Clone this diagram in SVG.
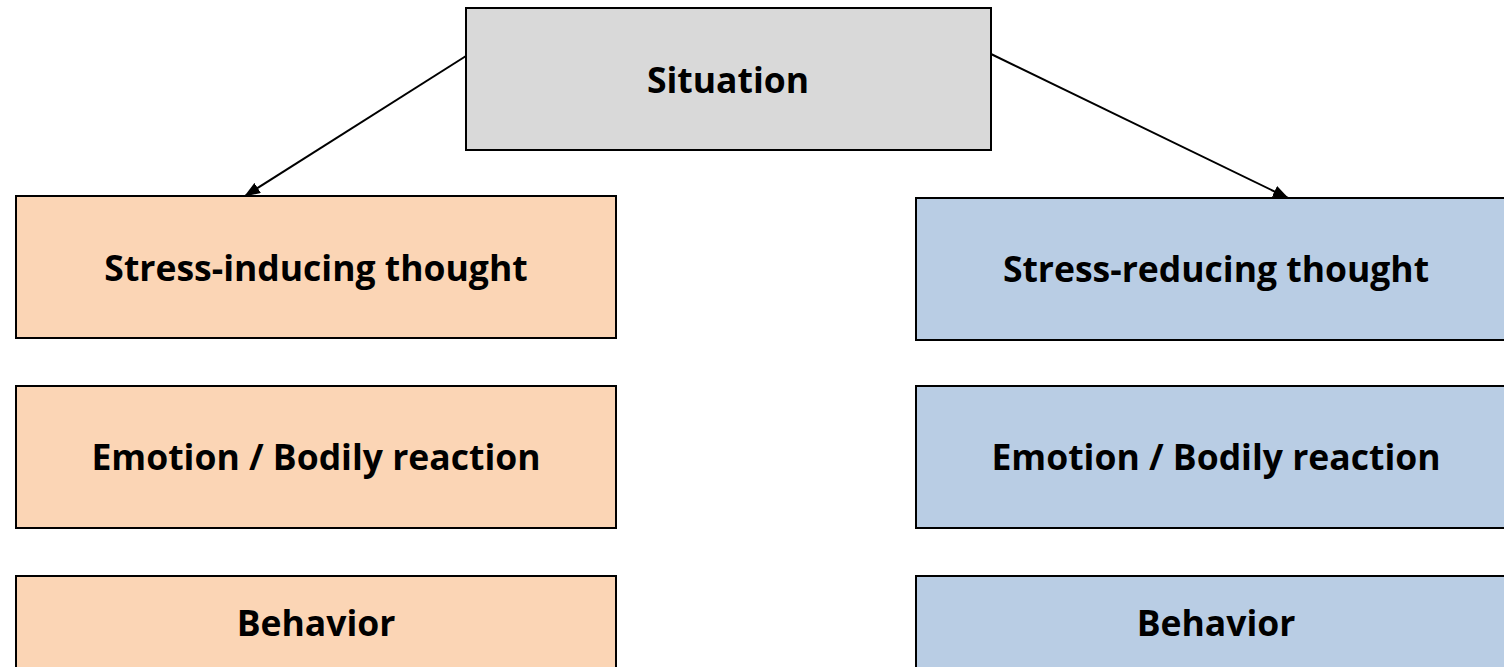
<svg xmlns="http://www.w3.org/2000/svg" width="1504" height="667" viewBox="0 0 1504 667">
  <style>
    .box { stroke: #000; stroke-width: 2; }
    .sit { fill: #d9d9d9; }
    .neg { fill: #fbd5b5; }
    .pos { fill: #b9cde4; }
    .lbl { font-family: "Open Sans", "Liberation Sans", sans-serif; font-weight: bold; font-size: 35.5px; fill: #000; text-anchor: middle; dominant-baseline: central; }
    .edge { stroke: #000; stroke-width: 2; fill: none; marker-end: url(#arrow); }
  </style>
  <defs>
    <marker id="arrow" viewBox="0 0 16 12" refX="15" refY="6" markerWidth="16" markerHeight="12" markerUnits="userSpaceOnUse" orient="auto">
      <path d="M0,0 L16,6 L0,12 Z" fill="#000"/>
    </marker>
  </defs>
  <rect width="1504" height="667" fill="#fff"/>

  <g id="connectors">
    <line class="edge" x1="466" y1="56" x2="245" y2="196"/>
    <line class="edge" x1="991" y1="54" x2="1288" y2="198"/>
  </g>

  <g id="situation">
    <rect class="box sit" x="466" y="8" width="525" height="142"/>
    <text class="lbl" x="728" y="79">Situation</text>
  </g>

  <g id="stress-inducing-thought">
    <rect class="box neg" x="16" y="196" width="600" height="142"/>
    <text class="lbl" x="316" y="267">Stress-inducing thought</text>
  </g>
  <g id="emotion-left">
    <rect class="box neg" x="16" y="386" width="600" height="142"/>
    <text class="lbl" x="316" y="456">Emotion / Bodily reaction</text>
  </g>
  <g id="behavior-left">
    <rect class="box neg" x="16" y="576" width="600" height="142"/>
    <text class="lbl" x="316" y="622">Behavior</text>
  </g>

  <g id="stress-reducing-thought">
    <rect class="box pos" x="916" y="198" width="600" height="142"/>
    <text class="lbl" x="1216" y="268">Stress-reducing thought</text>
  </g>
  <g id="emotion-right">
    <rect class="box pos" x="916" y="386" width="600" height="142"/>
    <text class="lbl" x="1216" y="456">Emotion / Bodily reaction</text>
  </g>
  <g id="behavior-right">
    <rect class="box pos" x="916" y="576" width="600" height="142"/>
    <text class="lbl" x="1216" y="622">Behavior</text>
  </g>
</svg>
